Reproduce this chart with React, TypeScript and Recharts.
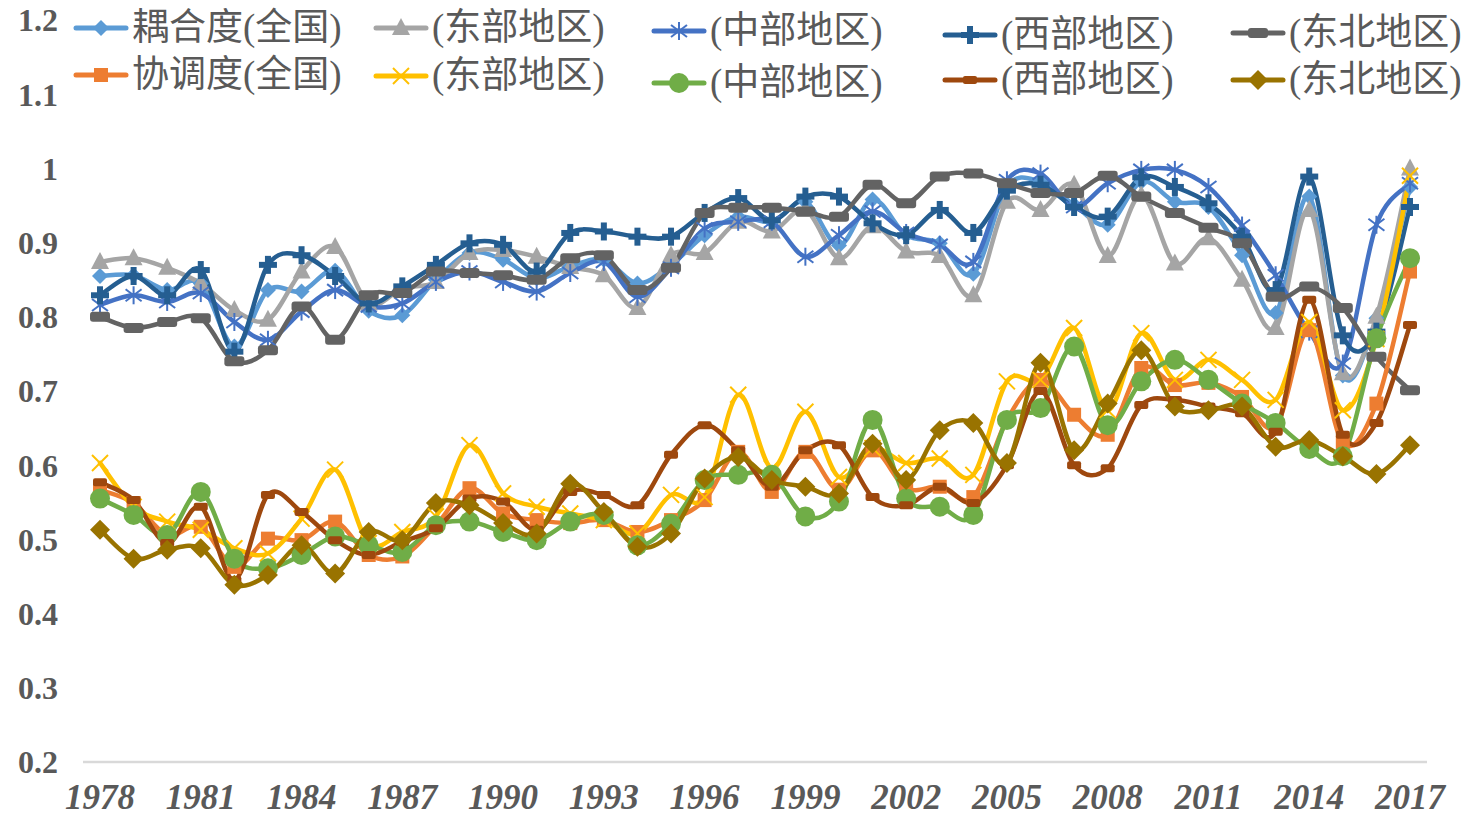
import { LineChart, Line, XAxis, YAxis, Legend } from 'recharts';

const years = [
  '1978', '1979', '1980', '1981', '1982', '1983', '1984', '1985', '1986', '1987',
  '1988', '1989', '1990', '1991', '1992', '1993', '1994', '1995', '1996', '1997',
  '1998', '1999', '2000', '2001', '2002', '2003', '2004', '2005', '2006', '2007',
  '2008', '2009', '2010', '2011', '2012', '2013', '2014', '2015', '2016', '2017',
];

const yTicks = [0.2, 0.3, 0.4, 0.5, 0.6, 0.7, 0.8, 0.9, 1, 1.1, 1.2];

// 耦合度
const couplingNational = [
  0.855, 0.856, 0.836, 0.845, 0.760, 0.836, 0.834, 0.862, 0.808, 0.802,
  0.850, 0.886, 0.877, 0.852, 0.868, 0.877, 0.845, 0.870, 0.910, 0.935,
  0.928, 0.955, 0.896, 0.958, 0.910, 0.899, 0.858, 0.975, 0.982, 0.951,
  0.924, 0.982, 0.955, 0.948, 0.883, 0.805, 0.962, 0.721, 0.798, 0.975,
];
const couplingEast = [
  0.874, 0.879, 0.866, 0.845, 0.809, 0.796, 0.861, 0.894, 0.818, 0.838,
  0.847, 0.886, 0.890, 0.881, 0.867, 0.856, 0.812, 0.883, 0.886, 0.928,
  0.915, 0.944, 0.879, 0.922, 0.888, 0.882, 0.829, 0.955, 0.944, 0.978,
  0.882, 0.964, 0.872, 0.906, 0.850, 0.785, 0.944, 0.724, 0.800, 1.000,
];
const couplingCentral = [
  0.816, 0.829, 0.820, 0.832, 0.793, 0.769, 0.807, 0.836, 0.814, 0.818,
  0.847, 0.861, 0.847, 0.834, 0.859, 0.874, 0.827, 0.866, 0.919, 0.928,
  0.928, 0.881, 0.910, 0.942, 0.913, 0.897, 0.874, 0.984, 0.993, 0.948,
  0.980, 0.998, 0.998, 0.975, 0.923, 0.856, 0.780, 0.737, 0.924, 0.980,
];
const couplingWest = [
  0.829, 0.855, 0.829, 0.863, 0.753, 0.870, 0.883, 0.855, 0.818, 0.841,
  0.870, 0.899, 0.897, 0.861, 0.913, 0.915, 0.908, 0.908, 0.940, 0.960,
  0.930, 0.962, 0.962, 0.926, 0.910, 0.944, 0.913, 0.970, 0.978, 0.948,
  0.935, 0.988, 0.975, 0.953, 0.908, 0.836, 0.989, 0.775, 0.780, 0.948,
];
const couplingNortheast = [
  0.800, 0.785, 0.793, 0.798, 0.740, 0.755, 0.814, 0.769, 0.829, 0.832,
  0.861, 0.859, 0.856, 0.850, 0.879, 0.883, 0.836, 0.866, 0.940, 0.947,
  0.947, 0.942, 0.935, 0.978, 0.953, 0.989, 0.993, 0.980, 0.967, 0.967,
  0.990, 0.962, 0.940, 0.920, 0.899, 0.827, 0.841, 0.812, 0.746, 0.701,
];

// 协调度
const coordNational = [
  0.567, 0.549, 0.506, 0.517, 0.463, 0.501, 0.499, 0.524, 0.479, 0.477,
  0.519, 0.569, 0.535, 0.526, 0.522, 0.526, 0.510, 0.526, 0.553, 0.618,
  0.564, 0.618, 0.567, 0.620, 0.569, 0.571, 0.557, 0.661, 0.715, 0.668,
  0.641, 0.731, 0.708, 0.711, 0.692, 0.652, 0.782, 0.630, 0.683, 0.861,
];
const coordEast = [
  0.603, 0.544, 0.524, 0.513, 0.488, 0.481, 0.528, 0.594, 0.495, 0.510,
  0.531, 0.627, 0.562, 0.544, 0.535, 0.526, 0.508, 0.560, 0.557, 0.695,
  0.596, 0.672, 0.584, 0.623, 0.603, 0.609, 0.587, 0.713, 0.715, 0.785,
  0.674, 0.778, 0.715, 0.742, 0.715, 0.688, 0.793, 0.674, 0.770, 0.990,
];
const coordCentral = [
  0.555, 0.533, 0.506, 0.564, 0.474, 0.461, 0.479, 0.504, 0.492, 0.483,
  0.519, 0.524, 0.510, 0.499, 0.524, 0.533, 0.492, 0.521, 0.580, 0.587,
  0.587, 0.531, 0.551, 0.661, 0.555, 0.544, 0.533, 0.661, 0.677, 0.760,
  0.654, 0.713, 0.742, 0.715, 0.683, 0.657, 0.622, 0.612, 0.771, 0.879,
];
const coordWest = [
  0.577, 0.553, 0.495, 0.544, 0.445, 0.560, 0.537, 0.499, 0.479, 0.497,
  0.515, 0.555, 0.551, 0.513, 0.564, 0.560, 0.546, 0.614, 0.654, 0.620,
  0.571, 0.620, 0.627, 0.557, 0.546, 0.571, 0.549, 0.600, 0.700, 0.600,
  0.596, 0.681, 0.688, 0.679, 0.670, 0.645, 0.823, 0.641, 0.657, 0.789,
];
const coordNortheast = [
  0.513, 0.474, 0.486, 0.488, 0.439, 0.452, 0.492, 0.454, 0.510, 0.499,
  0.549, 0.546, 0.522, 0.508, 0.575, 0.537, 0.490, 0.508, 0.582, 0.611,
  0.580, 0.571, 0.562, 0.629, 0.580, 0.647, 0.657, 0.603, 0.738, 0.620,
  0.683, 0.755, 0.679, 0.674, 0.679, 0.625, 0.634, 0.612, 0.588, 0.627,
];

const data = years.map((year, i) => ({
  year,
  cN: couplingNational[i],
  cE: couplingEast[i],
  cC: couplingCentral[i],
  cW: couplingWest[i],
  cNE: couplingNortheast[i],
  hN: coordNational[i],
  hE: coordEast[i],
  hC: coordCentral[i],
  hW: coordWest[i],
  hNE: coordNortheast[i],
}));

const series = [
  { key: 'cN', name: '耦合度(全国)', color: '#5B9BD5', shape: 'diamond' },
  { key: 'cE', name: '(东部地区)', color: '#A5A5A5', shape: 'triangle' },
  { key: 'cC', name: '(中部地区)', color: '#4472C4', shape: 'asterisk' },
  { key: 'cW', name: '(西部地区)', color: '#255E91', shape: 'plus' },
  { key: 'cNE', name: '(东北地区)', color: '#636363', shape: 'dash' },
  { key: 'hN', name: '协调度(全国)', color: '#ED7D31', shape: 'square' },
  { key: 'hE', name: '(东部地区)', color: '#FFC000', shape: 'x' },
  { key: 'hC', name: '(中部地区)', color: '#70AD47', shape: 'circle' },
  { key: 'hW', name: '(西部地区)', color: '#9E480E', shape: 'smallDash' },
  { key: 'hNE', name: '(东北地区)', color: '#997300', shape: 'bigDiamond' },
];

// legend slot per series: icon left edge and vertical centre
const legendSlots: Record<string, { left: number; top: number }> = {
  cN: { left: 73, top: 28 },
  cE: { left: 373, top: 28 },
  cC: { left: 651, top: 31 },
  cW: { left: 942, top: 35 },
  cNE: { left: 1230, top: 33 },
  hN: { left: 73, top: 75 },
  hE: { left: 373, top: 76 },
  hC: { left: 651, top: 83 },
  hW: { left: 942, top: 80 },
  hNE: { left: 1230, top: 80 },
};

// Excel style smoothing (Catmull-Rom through the points)
function excelSmooth(context: any) {
  let xs: number[] = [];
  let ys: number[] = [];
  return {
    areaStart() {},
    areaEnd() {},
    lineStart() {
      xs = [];
      ys = [];
    },
    point(x: number, y: number) {
      xs.push(+x);
      ys.push(+y);
    },
    lineEnd() {
      const n = xs.length;
      if (!n) return;
      context.moveTo(xs[0], ys[0]);
      for (let i = 0; i < n - 1; i++) {
        const a = Math.max(i - 1, 0);
        const d = Math.min(i + 2, n - 1);
        context.bezierCurveTo(
          xs[i] + (xs[i + 1] - xs[a]) / 6,
          ys[i] + (ys[i + 1] - ys[a]) / 6,
          xs[i + 1] - (xs[d] - xs[i]) / 6,
          ys[i + 1] - (ys[d] - ys[i]) / 6,
          xs[i + 1],
          ys[i + 1]
        );
      }
    },
  };
}

function Marker({ shape, cx, cy, color }: { shape: string; cx: number; cy: number; color: string }) {
  switch (shape) {
    case 'diamond':
      return <path d={`M${cx},${cy - 8}L${cx + 8},${cy}L${cx},${cy + 8}L${cx - 8},${cy}Z`} fill={color} />;
    case 'bigDiamond':
      return <path d={`M${cx},${cy - 10}L${cx + 10},${cy}L${cx},${cy + 10}L${cx - 10},${cy}Z`} fill={color} />;
    case 'triangle':
      return <path d={`M${cx},${cy - 10}L${cx + 9},${cy + 7}L${cx - 9},${cy + 7}Z`} fill={color} />;
    case 'asterisk':
      return (
        <g stroke={color} strokeWidth={2}>
          <line x1={cx} y1={cy - 9} x2={cx} y2={cy + 9} />
          <line x1={cx - 8} y1={cy - 6} x2={cx + 8} y2={cy + 6} />
          <line x1={cx - 8} y1={cy + 6} x2={cx + 8} y2={cy - 6} />
        </g>
      );
    case 'plus':
      return (
        <g fill={color}>
          <rect x={cx - 9} y={cy - 3} width={18} height={6} />
          <rect x={cx - 3} y={cy - 9} width={6} height={18} />
        </g>
      );
    case 'dash':
      return <rect x={cx - 10} y={cy - 5} width={20} height={10} rx={3} fill={color} />;
    case 'smallDash':
      return <rect x={cx - 7} y={cy - 4} width={14} height={8} rx={2} fill={color} />;
    case 'square':
      return <rect x={cx - 7} y={cy - 7} width={14} height={14} fill={color} />;
    case 'x':
      return (
        <g stroke={color} strokeWidth={2}>
          <line x1={cx - 8} y1={cy - 8} x2={cx + 8} y2={cy + 8} />
          <line x1={cx - 8} y1={cy + 8} x2={cx + 8} y2={cy - 8} />
        </g>
      );
    case 'circle':
      return <circle cx={cx} cy={cy} r={10} fill={color} />;
    default:
      return null;
  }
}

function ChartLegend({ payload }: { payload?: any[] }) {
  return (
    <div style={{ position: 'relative', width: 1466, height: 0 }}>
      {(payload || []).map((entry) => {
        const s = series.find((it) => it.key === entry.dataKey);
        if (!s) return null;
        const slot = legendSlots[s.key];
        return (
          <div
            key={s.key}
            style={{
              position: 'absolute',
              left: slot.left,
              top: slot.top - 22,
              height: 44,
              display: 'flex',
              alignItems: 'center',
              whiteSpace: 'nowrap',
            }}
          >
            <svg width={56} height={24} style={{ display: 'block' }}>
              <line x1={3} y1={12} x2={53} y2={12} stroke={s.color} strokeWidth={5} strokeLinecap="round" />
              <Marker shape={s.shape} cx={28} cy={12} color={s.color} />
            </svg>
            <span
              style={{
                marginLeft: 3,
                fontFamily: "'Liberation Serif', 'Noto Sans CJK SC', serif",
                fontSize: 37,
                lineHeight: '44px',
                color: '#595959',
              }}
            >
              {s.name}
            </span>
          </div>
        );
      })}
    </div>
  );
}

export default function App() {
  return (
    <div style={{ position: 'absolute', left: 0, top: 0, width: 1466, height: 817, background: '#fff' }}>
      <LineChart width={1466} height={817} data={data} margin={{ top: 20, right: 39, left: 0, bottom: 5 }}>
        <XAxis
          dataKey="year"
          interval={2}
          padding={{ left: 17, right: 17 }}
          height={50}
          tickLine={false}
          tickSize={0}
          tickMargin={22}
          axisLine={{ stroke: '#D9D9D9', strokeWidth: 2.5 }}
          tick={{
            fill: '#595959',
            fontSize: 35,
            fontWeight: 'bold',
            fontStyle: 'italic',
            fontFamily: "'Liberation Serif', serif",
          }}
        />
        <YAxis
          type="number"
          domain={[0.2, 1.2]}
          ticks={yTicks}
          width={83}
          axisLine={false}
          tickLine={false}
          tickSize={0}
          tickMargin={25}
          tickFormatter={(v: number) => String(+v.toFixed(1))}
          tick={{
            fill: '#595959',
            fontSize: 32,
            fontWeight: 'bold',
            fontFamily: "'Liberation Serif', serif",
          }}
        />
        <Legend
          verticalAlign="top"
          align="left"
          wrapperStyle={{ top: 0, left: 0, width: 1466, height: 0 }}
          content={(props: any) => <ChartLegend payload={props.payload} />}
        />
        {series.map((s) => (
          <Line
            key={s.key}
            dataKey={s.key}
            name={s.name}
            type={excelSmooth as any}
            stroke={s.color}
            strokeWidth={4.5}
            strokeLinecap="round"
            isAnimationActive={false}
            dot={(p: any) => (
              <g key={`${s.key}-${p.index}`}>
                <Marker shape={s.shape} cx={p.cx} cy={p.cy} color={s.color} />
              </g>
            )}
            activeDot={false}
          />
        ))}
      </LineChart>
    </div>
  );
}
